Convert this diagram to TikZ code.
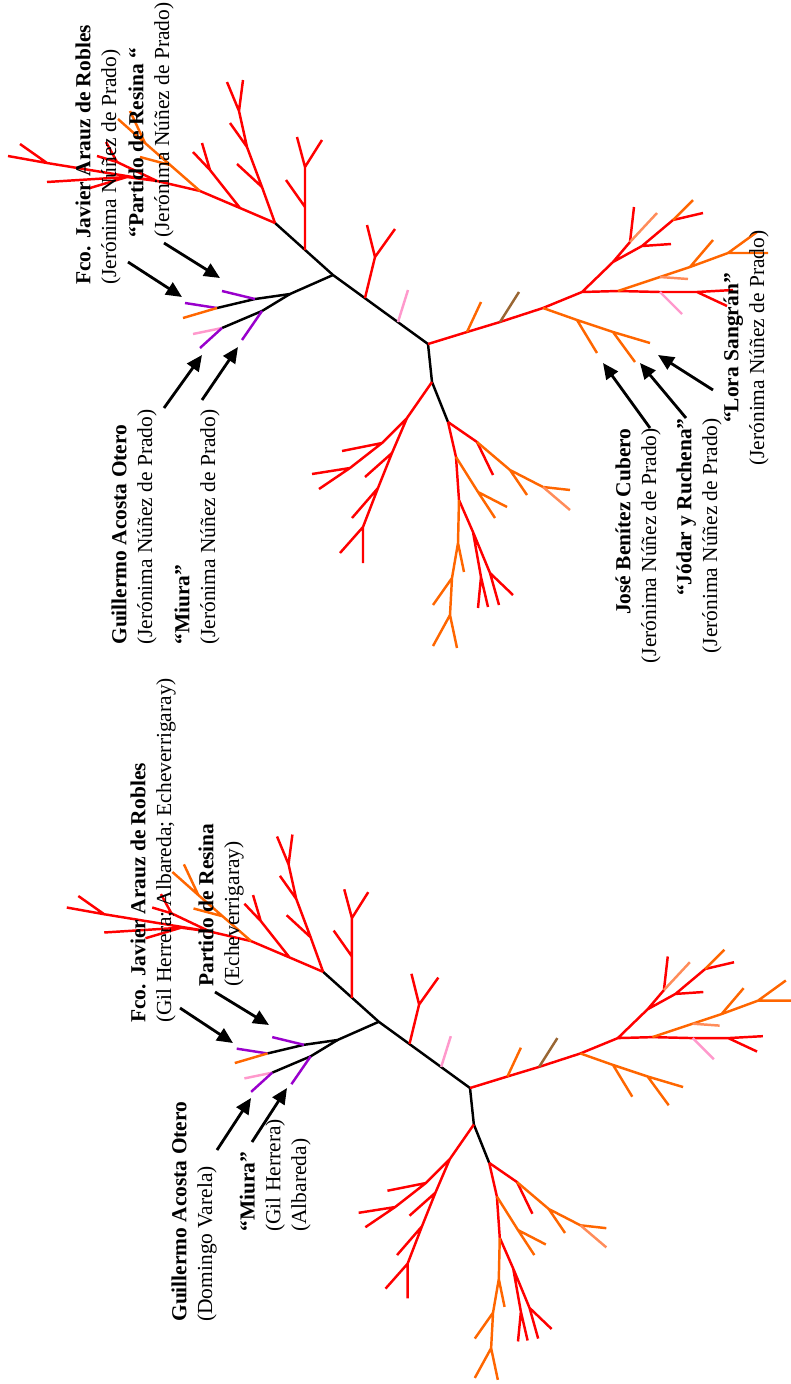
\documentclass[tikz,border=0pt]{standalone}
\usepackage{fontspec}
\setmainfont{Liberation Serif}
\usetikzlibrary{arrows.meta}

\definecolor{tRed}{RGB}{255,0,0}
\definecolor{tOrange}{RGB}{255,102,0}
\definecolor{tSalmon}{RGB}{255,140,90}
\definecolor{tPink}{RGB}{255,153,204}
\definecolor{tPurple}{RGB}{153,0,204}
\definecolor{tBrown}{RGB}{153,102,51}

% one breed tree, drawn in pixel units of the upper copy
\newcommand{\breedtree}{%
  % backbone
  \draw[trunk] (448,422) -- (432,382) -- (428,344) -- (333,275) -- (275,223);
  \draw[trunk] (333,275) -- (290,294) -- (255,299) -- (217,308);
  \draw[trunk] (290,294) -- (262,311) -- (222,328);
  % purple cluster
  \draw[branch, tPurple] (255,299) -- (222,291);
  \draw[branch, tPurple] (217,308) -- (185,303);
  \draw[branch, tOrange] (217,308) -- (183,318);
  \draw[branch, tPurple] (262,311) -- (242,340);
  \draw[branch, tPink] (222,328) -- (193,334);
  \draw[branch, tPurple] (222,328) -- (200,348);
  % side branches on the backbone
  \draw[branch, tPink] (398,322) -- (408,290);
  \draw[branch, tRed] (365,298) -- (375,257) -- (367,225) (375,257) -- (395,229);
  \draw[branch, tRed] (305,250) -- (305,167) -- (297,137) (305,167) -- (322,140)
        (305,207) -- (286,180);
  % upper left crown
  \draw[branch, tRed] (275,223) -- (262,187) -- (247,147) -- (239,111) -- (227,82)
        (239,111) -- (243,80) (262,187) -- (237,164) (247,147) -- (230,123);
  \draw[branch, tRed] (275,223) -- (240,208) -- (200,191) -- (157,181) -- (47,163) -- (8,156)
        (47,163) -- (20,144)
        (157,181) -- (127,177) -- (47,182) (127,177) -- (90,188)
        (157,181) -- (117,162) -- (97,156) (117,162) -- (106,142)
        (240,208) -- (210,170) -- (193,152) (210,170) -- (202,143);
  \draw[branch, tOrange] (200,191) -- (145,143) -- (118,119) (145,143) -- (130,111)
        (170,165) -- (140,157);
  % right crown
  \draw[branch, tRed] (428,344) -- (467,332) -- (500,322) -- (543,308) -- (582,292)
        -- (618,291) -- (660,292) -- (697,292) -- (733,290)
        (697,292) -- (727,306)
        (582,292) -- (613,262) -- (630,242) -- (634,207)
        (613,262) -- (642,246) -- (673,220) -- (703,213)
        (642,246) -- (671,244);
  \draw[branch, tOrange] (467,332) -- (481,302);
  \draw[branch, tBrown] (500,322) -- (519,292);
  \draw[branch, tOrange] (543,308) -- (577,320) -- (613,332) -- (650,343)
        (577,320) -- (597,353) (613,332) -- (635,362);
  \draw[branch, tSalmon] (630,242) -- (657,213);
  \draw[branch, tOrange] (673,220) -- (693,200);
  \draw[branch, tPink] (660,292) -- (682,314);
  \draw[branch, tOrange] (618,291) -- (690,267) -- (728,253) -- (757,232)
        (728,253) -- (768,253) (690,267) -- (713,240);
  \draw[branch, tSalmon] (660,277) -- (688,279);
  % lower crowns
  \draw[branch, tRed] (432,382) -- (407,418) -- (392,453) -- (378,488) -- (363,527) -- (340,553)
        (363,527) -- (363,563) (392,453) -- (365,477) (378,488) -- (352,518)
        (407,418) -- (382,443) -- (350,468) -- (319,489)
        (382,443) -- (342,451) (350,468) -- (312,474);
  \draw[branch, tRed] (448,422) -- (477,442) -- (493,475);
  \draw[branch, tOrange] (477,442) -- (510,470) -- (543,487) -- (570,490) (510,470) -- (527,495);
  \draw[branch, tSalmon] (543,487) -- (570,510);
  \draw[branch, tRed] (448,422) -- (456,457) -- (459,500) -- (473,532) -- (481,577) -- (478,608)
        (481,577) -- (488,607) (473,532) -- (490,573) -- (499,605) (490,573) -- (513,595);
  \draw[branch, tOrange] (456,457) -- (478,492) -- (495,518) (478,492) -- (507,507);
  \draw[branch, tOrange] (459,500) -- (458,543) -- (452,578) -- (450,615) -- (433,646)
        (450,615) -- (457,648) (458,543) -- (464,572) (452,578) -- (433,605);
}

\begin{document}
\begin{tikzpicture}[
    x=0.02cm, y=-0.02cm,
    branch/.style={line width=1.4pt, line join=round},
    trunk/.style={branch, black},
    pointer/.style={-{Triangle[length=9pt,width=8pt]}, line width=1.6pt},
    breedlabel/.style={rotate=90, inner sep=0pt, font=\fontsize{12.2}{14.6}\selectfont}
]
\useasboundingbox (0,0) rectangle (791,1384);

% Upper tree
\breedtree

% Lower tree
\begin{scope}[shift={(470,1088)}, scale=0.96, shift={(-428,-344)}]
\breedtree
\end{scope}

% Labels, upper tree (anchored on the baseline of the last line)
\node[breedlabel, anchor=base west, align=left] (fcoTop) at (116,285)
    {\textbf{Fco. Javier Arauz de Robles}\\(Jerónima Núñez de Prado)};
\node[breedlabel, anchor=base west, align=left] (partidoTop) at (169,238)
    {\textbf{“Partido de Resina “}\\(Jerónima Núñez de Prado)};
\node[breedlabel, anchor=base west, align=left] (guillermoTop) at (152,645)
    {\textbf{Guillermo Acosta Otero}\\(Jerónima Núñez de Prado)};
\node[breedlabel, anchor=base west, align=left] (miuraTop) at (215,645)
    {\textbf{“Miura”}\\(Jerónima Núñez de Prado)};
\node[breedlabel, anchor=base east, align=right] (joseTop) at (656,428)
    {\textbf{José Benítez Cubero}\\(Jerónima Núñez de Prado)};
\node[breedlabel, anchor=base east, align=right] (jodarTop) at (717,418)
    {\textbf{“Jódar y Ruchena”}\\(Jerónima Núñez de Prado)};
\node[breedlabel, anchor=base, align=center] (loraTop) at (764,348)
    {\textbf{“Lora Sangrán”}\\(Jerónima Núñez de Prado)};

% Labels, lower tree
\node[breedlabel, anchor=base west, align=left] (fcoBottom) at (171,1023)
    {\textbf{Fco. Javier Arauz de Robles}\\(Gil Herrera; Albareda; Echeverrigaray)};
\node[breedlabel, anchor=base west, align=left] (partidoBottom) at (239,987)
    {\textbf{Partido de Resina}\\(Echeverrigaray)};
\node[breedlabel, anchor=base west, align=left] (guillermoBottom) at (212,1322)
    {\textbf{Guillermo Acosta Otero}\\(Domingo Varela)};
\node[breedlabel, anchor=base west, align=left] (miuraBottom) at (306,1232)
    {\textbf{“Miura”}\\(Gil Herrera)\\(Albareda)};

% Arrow ends
\coordinate (fcoTopTail) at (128,262);        \coordinate (fcoTopHead) at (182,297);
\coordinate (partidoTopTail) at (164,243);    \coordinate (partidoTopHead) at (220,278);
\coordinate (guillermoTopTail) at (164,408);  \coordinate (guillermoTopHead) at (202,355);
\coordinate (miuraTopTail) at (202,400);      \coordinate (miuraTopHead) at (238,347);
\coordinate (joseTopTail) at (650,428);       \coordinate (joseTopHead) at (603,363);
\coordinate (jodarTopTail) at (686,418);      \coordinate (jodarTopHead) at (640,363);
\coordinate (loraTopTail) at (713,390);       \coordinate (loraTopHead) at (658,355);
\coordinate (fcoBottomTail) at (180,1008);    \coordinate (fcoBottomHead) at (233,1043);
\coordinate (partidoBottomTail) at (215,992); \coordinate (partidoBottomHead) at (269,1025);
\coordinate (guillermoBottomTail) at (217,1150); \coordinate (guillermoBottomHead) at (251,1098);
\coordinate (miuraBottomTail) at (252,1142);  \coordinate (miuraBottomHead) at (287,1088);

% Arrows
\foreach \breed in {fcoTop, partidoTop, guillermoTop, miuraTop, joseTop, jodarTop, loraTop,
                    fcoBottom, partidoBottom, guillermoBottom, miuraBottom}
    \draw[pointer] (\breed Tail) -- (\breed Head);

\end{tikzpicture}
\end{document}
